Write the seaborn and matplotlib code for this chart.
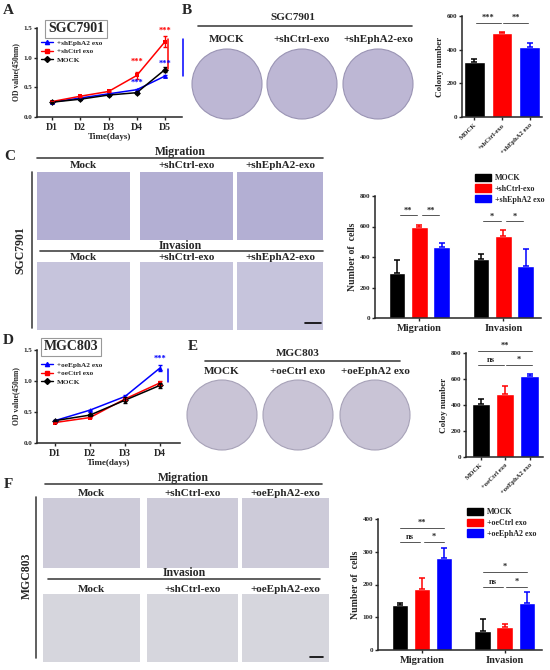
import numpy as np
import pandas as pd
import matplotlib
matplotlib.use("Agg")
import matplotlib.pyplot as plt
from matplotlib.patches import Rectangle, Circle, Patch
from matplotlib.lines import Line2D
import seaborn as sns

# =====================================================================
# DATA
# =====================================================================
days_a = ["D1", "D2", "D3", "D4", "D5"]
a_groups = ["+shEphA2 exo", "+shCtrl exo", "MOCK"]
a_sheph = [0.25, 0.32, 0.39, 0.46, 0.69]
a_sheph_err = [0.01, 0.01, 0.01, 0.02, 0.02]
a_shctrl = [0.26, 0.35, 0.43, 0.70, 1.27]
a_shctrl_err = [0.01, 0.01, 0.01, 0.06, 0.09]
a_mock = [0.25, 0.30, 0.37, 0.41, 0.80]
a_mock_err = [0.01, 0.01, 0.01, 0.02, 0.04]

b_groups = ["MOCK", "+shCtrl-exo", "+shEphA2 exo"]
b_colony = [325, 497, 413]
b_err = [18, 5, 28]

assays = ["Migration", "Invasion"]
c_groups = ["MOCK", "+shCtrl-exo", "+shEphA2 exo"]
c_mock = [295, 390]
c_mock_err = [85, 30]
c_shctrl = [598, 535]
c_shctrl_err = [10, 45]
c_sheph = [465, 340]
c_sheph_err = [30, 110]

days_d = ["D1", "D2", "D3", "D4"]
d_groups = ["+oeEphA2 exo", "+oeCtrl exo", "MOCK"]
d_oeeph = [0.36, 0.53, 0.75, 1.21]
d_oeeph_err = [0.01, 0.01, 0.02, 0.05]
d_oectrl = [0.33, 0.41, 0.71, 0.97]
d_oectrl_err = [0.01, 0.01, 0.02, 0.03]
d_mock = [0.36, 0.45, 0.69, 0.93]
d_mock_err = [0.01, 0.01, 0.05, 0.04]

e_groups = ["MOCK", "+oeCtrl exo", "+oeEphA2 exo"]
e_colony = [405, 485, 620]
e_err = [38, 58, 20]

f_groups = ["MOCK", "+oeCtrl exo", "+oeEphA2 exo"]
f_mock = [137, 57]
f_mock_err = [6, 37]
f_oectrl = [187, 70]
f_oectrl_err = [32, 10]
f_oeeph = [280, 142]
f_oeeph_err = [30, 34]

BLACK, RED, BLUE = "#000000", "#ff0000", "#0000ff"

# =====================================================================
# STYLE
# =====================================================================
sns.set_style("ticks")
plt.rcParams["font.family"] = ["Liberation Serif", "DejaVu Serif"]
plt.rcParams["font.weight"] = "bold"
plt.rcParams["axes.labelweight"] = "bold"
plt.rcParams["axes.linewidth"] = 1.1
plt.rcParams["xtick.major.width"] = 1.0
plt.rcParams["ytick.major.width"] = 1.0
plt.rcParams["xtick.major.size"] = 2.5
plt.rcParams["ytick.major.size"] = 2.5

W, H = 550, 670
fig = plt.figure(figsize=(5.5, 6.7), dpi=100)


def px(x0, y0, x1, y1):
    # pixel box -> figure fraction
    return [x0 / W, 1 - y1 / H, (x1 - x0) / W, (y1 - y0) / H]


def style_axes(ax, ytick_size=5):
    sns.despine(ax=ax)
    ax.tick_params(axis="y", labelsize=ytick_size, pad=1)
    ax.tick_params(axis="x", pad=1.5)
    for lab in ax.get_xticklabels() + ax.get_yticklabels():
        lab.set_fontweight("bold")


def growth_plot(ax, days, groups, values, errs, colors, markers):
    rows = []
    for g, vals in zip(groups, values):
        for i, v in enumerate(vals):
            rows.append({"day": i, "od": v, "group": g})
    df = pd.DataFrame(rows)
    sns.lineplot(data=df, x="day", y="od", hue="group", style="group",
                 hue_order=groups, style_order=groups,
                 palette=dict(zip(groups, colors)),
                 markers=dict(zip(groups, markers)), dashes=False,
                 markersize=3.5, markeredgewidth=0, lw=1.1, ax=ax, legend=False)
    for vals, er, c in zip(values, errs, colors):
        ax.errorbar(range(len(vals)), vals, yerr=er, fmt="none", ecolor=c,
                    elinewidth=1, capsize=1.5, capthick=1)
    ax.set_ylim(0, 1.5)
    ax.set_yticks([0, 0.5, 1.0, 1.5])
    ax.set_yticklabels(["0.0", "0.5", "1.0", "1.5"])
    ax.set_xticks(range(len(days)))
    ax.set_xticklabels(days, fontsize=7)
    ax.set_xlabel("Time(days)", fontsize=6.5, labelpad=1)
    ax.set_ylabel("OD value(450nm)", fontsize=5.5, labelpad=2)
    style_axes(ax)
    handles = [Line2D([], [], color=c, marker=m, markersize=3, lw=1)
               for c, m in zip(colors, markers)]
    ax.legend(handles, groups, loc="upper left", bbox_to_anchor=(0.0, 0.92),
              frameon=False, handlelength=1.6, labelspacing=0.35,
              handletextpad=0.6, borderaxespad=0.2,
              prop={"weight": "bold", "size": 5.2})


def add_errors(ax, errs_by_hue, colors):
    for cont, errs, c in zip(ax.containers, errs_by_hue, colors):
        for bar, e in zip(cont, errs):
            x = bar.get_x() + bar.get_width() / 2
            h = bar.get_height()
            ax.errorbar(x, h, yerr=[[0], [e]], fmt="none", ecolor=c,
                        elinewidth=1.1, capsize=2.2, capthick=1.1)


def sig(ax, x1, x2, y, text, dy):
    ax.plot([x1, x2], [y, y], color="#555555", lw=0.7, clip_on=False)
    ax.text((x1 + x2) / 2, y + dy, text, ha="center", va="center",
            fontsize=6, fontweight="bold", clip_on=False)


def simple_bars(ax, groups, values, errs, ylim, yticks, ylabel):
    df = pd.DataFrame({"group": groups, "count": values})
    sns.barplot(data=df, x="group", y="count", hue="group", order=groups,
                hue_order=groups, palette=[BLACK, RED, BLUE], saturation=1,
                errorbar=None, width=0.75, legend=False, ax=ax)
    add_errors(ax, [[e] for e in errs], [BLACK, RED, BLUE])
    ax.set_ylim(*ylim)
    ax.set_yticks(yticks)
    ax.set_xlabel("")
    ax.set_ylabel(ylabel, fontsize=6.5, labelpad=2)
    ax.set_xticks(range(len(groups)))
    ax.set_xticklabels(groups, rotation=45, ha="right", rotation_mode="anchor",
                       fontsize=4.8)
    style_axes(ax)


def grouped_bars(ax, groups, series, errs, ylim, yticks, legend_anchor):
    rows = []
    for g, vals in zip(groups, series):
        for a, v in zip(assays, vals):
            rows.append({"assay": a, "group": g, "count": v})
    df = pd.DataFrame(rows)
    sns.barplot(data=df, x="assay", y="count", hue="group", order=assays,
                hue_order=groups, palette=[BLACK, RED, BLUE], saturation=1,
                errorbar=None, width=0.8, gap=0.25, ax=ax)
    add_errors(ax, errs, [BLACK, RED, BLUE])
    ax.set_ylim(*ylim)
    ax.set_yticks(yticks)
    ax.set_xlim(-0.53, 1.45)
    ax.set_xlabel("")
    ax.set_ylabel("Number of  cells", fontsize=7, labelpad=2)
    ax.tick_params(axis="x", labelsize=7.5)
    style_axes(ax)
    handles = [Patch(color=c) for c in (BLACK, RED, BLUE)]
    ax.legend(handles, groups, loc="upper left", bbox_to_anchor=legend_anchor,
              frameon=False, handlelength=2.0, handleheight=1.0,
              labelspacing=0.3, handletextpad=0.5, borderaxespad=0,
              prop={"weight": "bold", "size": 5.8})


# =====================================================================
# A. growth curve SGC7901
# =====================================================================
axA = fig.add_axes(px(37, 28, 182, 117))
growth_plot(axA, days_a, a_groups, [a_sheph, a_shctrl, a_mock],
            [a_sheph_err, a_shctrl_err, a_mock_err], [BLUE, RED, BLACK],
            ["^", "s", "D"])
axA.set_xlim(-0.53, 4.6)
for x, y, c in [(3, 0.93, RED), (4, 1.45, RED), (3, 0.57, BLUE), (4, 0.90, BLUE)]:
    axA.text(x, y, "***", color=c, ha="center", va="center", fontsize=6,
             fontweight="bold")
axA.plot([4.12, 4.12], [0.81, 1.31], color=RED, lw=1.1, clip_on=False)
axA.plot([4.64, 4.64], [0.69, 1.31], color=BLUE, lw=1.1, clip_on=False)

# =====================================================================
# B. colony number SGC7901
# =====================================================================
axB = fig.add_axes(px(462, 16, 542, 117))
simple_bars(axB, b_groups, b_colony, b_err, (0, 600), [0, 200, 400, 600],
            "Colony number")
axB.set_xlim(-0.45, 2.45)
sig(axB, 0.05, 0.95, 558, "***", 30)
sig(axB, 1.05, 1.95, 558, "**", 30)

# =====================================================================
# C. transwell SGC7901
# =====================================================================
axC = fig.add_axes(px(375, 196, 541, 318))
grouped_bars(axC, c_groups, [c_mock, c_shctrl, c_sheph],
             [c_mock_err, c_shctrl_err, c_sheph_err], (0, 800),
             [0, 200, 400, 600, 800], (0.58, 1.21))
w = 0.8 / 3
sig(axC, -w + 0.03, -0.03, 675, "**", 30)
sig(axC, 0.03, w - 0.03, 675, "**", 30)
sig(axC, 1 - w + 0.03, 0.97, 636, "*", 30)
sig(axC, 1.03, 1 + w - 0.03, 636, "*", 30)

# =====================================================================
# D. growth curve MGC803
# =====================================================================
axD = fig.add_axes(px(37, 350, 180, 443))
growth_plot(axD, days_d, d_groups, [d_oeeph, d_oectrl, d_mock],
            [d_oeeph_err, d_oectrl_err, d_mock_err], [BLUE, RED, BLACK],
            ["^", "s", "D"])
axD.set_xlim(-0.51, 3.57)
axD.text(3, 1.36, "***", color=BLUE, ha="center", va="center", fontsize=6,
         fontweight="bold")
axD.plot([3.22, 3.22], [0.98, 1.2], color=BLUE, lw=1.1, clip_on=False)

# =====================================================================
# E. colony number MGC803
# =====================================================================
axE = fig.add_axes(px(466, 353, 543, 457))
simple_bars(axE, e_groups, e_colony, e_err, (0, 800), [0, 200, 400, 600, 800],
            "Coloy number")
axE.set_xlim(-0.6, 2.55)
sig(axE, -0.1, 2.1, 818, "**", 38)
sig(axE, -0.1, 0.95, 708, "ns", 38)
sig(axE, 1.05, 2.1, 708, "*", 38)

# =====================================================================
# F. transwell MGC803
# =====================================================================
axF = fig.add_axes(px(378, 519, 542, 650))
grouped_bars(axF, f_groups, [f_mock, f_oectrl, f_oeeph],
             [f_mock_err, f_oectrl_err, f_oeeph_err], (0, 400),
             [0, 100, 200, 300, 400], (0.52, 1.11))
sig(axF, -w, w, 372, "**", 16)
sig(axF, -w, -0.02, 330, "ns", 16)
sig(axF, 0.02, w, 330, "*", 16)
sig(axF, 1 - w, 1 + w, 238, "*", 16)
sig(axF, 1 - w, 0.98, 192, "ns", 16)
sig(axF, 1.02, 1 + w, 192, "*", 16)

# =====================================================================
# OVERLAY: panel letters, headers, image placeholders (pixel coords)
# =====================================================================
ov = fig.add_axes([0, 0, 1, 1], zorder=10)
ov.set_xlim(0, W)
ov.set_ylim(H, 0)
ov.axis("off")
ov.patch.set_alpha(0)


def txt(x, y, s, size=8, rot=0, **kw):
    ov.text(x, y, s, ha="center", va="center", fontsize=size,
            fontweight="bold", rotation=rot, **kw)


def hline(x0, x1, y, color="#444444", lw=1.2):
    ov.plot([x0, x1], [y, y], color=color, lw=lw)


for s, x, y in [("A", 8, 11), ("B", 187, 10), ("C", 10, 156), ("D", 8, 341),
                ("E", 193, 346), ("F", 8, 485)]:
    txt(x, y, s, size=11)

# cell line boxes for growth curves
txt(76, 29, "SGC7901", size=10,
    bbox=dict(boxstyle="square,pad=0.2", fc="white", ec="#999999", lw=0.8))
txt(71, 347, "MGC803", size=10,
    bbox=dict(boxstyle="square,pad=0.2", fc="white", ec="#999999", lw=0.8))

# B colony plates
txt(293, 18, "SGC7901", size=8)
hline(198, 412, 26)
for cx, lab in zip([227, 302, 378], ["MOCK", "+shCtrl-exo", "+shEphA2-exo"]):
    txt(cx, 39, lab, size=8)
    ov.add_patch(Circle((cx, 84), 35, fc="#bdb7d4", ec="#9a94b4", lw=0.8))

# E colony plates
txt(298, 353, "MGC803", size=8)
hline(205, 400, 361)
for cx, lab in zip([222, 298, 375], ["MOCK", "+oeCtrl exo", "+oeEphA2 exo"]):
    txt(cx, 372, lab, size=8)
    ov.add_patch(Circle((cx, 415), 35, fc="#c9c4d6", ec="#a7a2b8", lw=0.8))

# C transwell images
txt(180, 152, "Migration", size=8.5)
hline(37, 323, 158)
txt(180, 246, "Invasion", size=8.5)
hline(40, 323, 251)
txt(20, 250, "SGC7901", size=8.5, rot=90)
ov.plot([32, 32], [172, 328], color="#444444", lw=1.2)
c_cols = [(37, 130), (140, 233), (237, 323)]
for (x0, x1), lab in zip(c_cols, ["Mock", "+shCtrl-exo", "+shEphA2-exo"]):
    txt((x0 + x1) / 2, 166, lab, size=8)
    ov.add_patch(Rectangle((x0, 172), x1 - x0, 68, fc="#b3afd3", ec="none"))
    txt((x0 + x1) / 2, 257, lab, size=8)
    ov.add_patch(Rectangle((x0, 262), x1 - x0, 68, fc="#c6c4dc", ec="none"))
hline(305, 321, 323, color="black", lw=1.2)

# F transwell images
txt(183, 478, "Migration", size=8.5)
hline(45, 322, 484)
txt(184, 573, "Invasion", size=8.5)
hline(48, 320, 579)
txt(27, 576, "MGC803", size=8.5, rot=90)
ov.plot([36, 36], [497, 658], color="#444444", lw=1.2)
f_cols = [(43, 140), (147, 238), (242, 329)]
for (x0, x1), lab in zip(f_cols, ["Mock", "+shCtrl-exo", "+oeEphA2-exo"]):
    txt((x0 + x1) / 2, 493, lab, size=8)
    ov.add_patch(Rectangle((x0, 498), x1 - x0, 70, fc="#cdcbd9", ec="none"))
    txt((x0 + x1) / 2, 589, lab, size=8)
    ov.add_patch(Rectangle((x0, 594), x1 - x0, 68, fc="#d6d6dd", ec="none"))
hline(310, 323, 657, color="black", lw=1.2)

fig.savefig("out.png", dpi=100)
